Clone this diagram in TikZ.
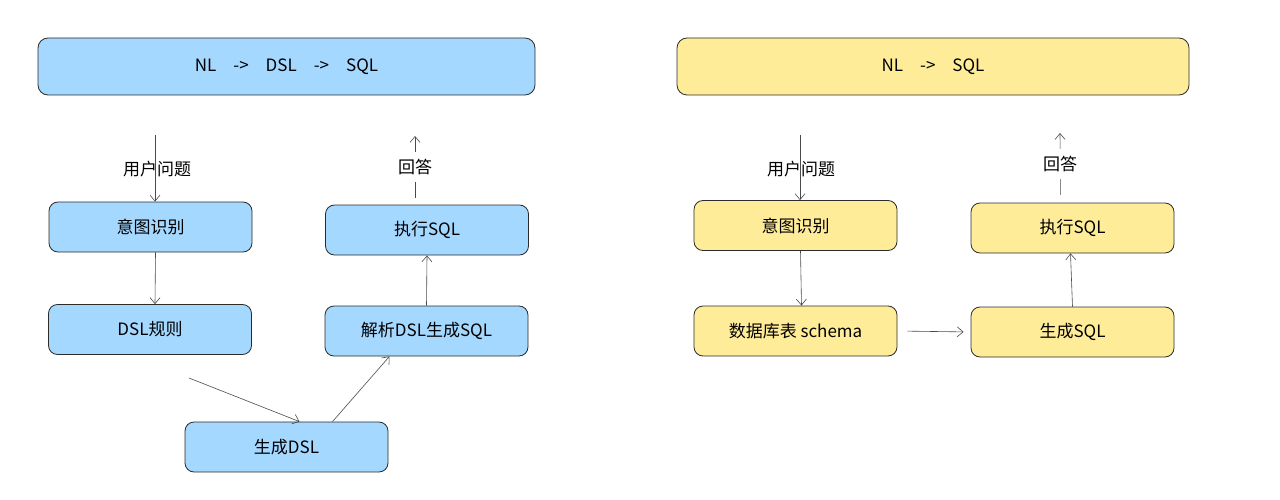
\documentclass[tikz,border=0pt]{standalone}
\usepackage{fontspec}
\setmainfont{Noto Sans CJK SC}
\usetikzlibrary{arrows.meta}
\definecolor{bleu}{HTML}{A5D8FF}
\definecolor{jaune}{HTML}{FFEC99}
\definecolor{trait}{HTML}{2B2B2B}
\definecolor{fleche}{HTML}{4A4A4A}

\begin{document}
\begin{tikzpicture}[x=1pt, y=-1pt,
	boite/.style={draw=trait, line width=0.8pt, rounded corners=9pt, minimum width=203pt, minimum height=50pt, inner sep=0pt, font=\fontsize{17}{20}\selectfont},
	titre/.style={boite, minimum height=57pt, rounded corners=10pt},
	lbl/.style={font=\fontsize{17}{20}\selectfont, inner sep=0pt},
	fl/.style={draw=fleche, line width=0.6pt, -{Straight Barb[length=6pt, width=10pt]}}]
	\useasboundingbox (0,0) rectangle (1280,500);

	% NL -> DSL -> SQL
	\node[titre, fill=bleu, minimum width=497pt] (titreA) at (286.5,66.5) {NL\quad->\quad DSL\quad->\quad SQL};
	\node[boite, fill=bleu] (intentA) at (150.5,227) {意图识别};
	\node[boite, fill=bleu] (regleA) at (150,329.5) {DSL规则};
	\node[boite, fill=bleu] (genA) at (286.5,447) {生成DSL};
	\node[boite, fill=bleu] (parseA) at (426.5,331) {解析DSL生成SQL};
	\node[boite, fill=bleu] (execA) at (427,230) {执行SQL};
	\coordinate (qA) at (155,135);
	\coordinate (dA) at (189,378);
	\coordinate (rA) at (415,136);

	\draw[fl] (qA) -- (qA |- intentA.north);
	\node[lbl] (questionA) at (157,169) {用户问题};
	\draw[fl] ([xshift=5pt]intentA.south) -- ([xshift=5pt]regleA.north);
	\draw[fl] (dA) -- ([xshift=13pt]genA.north);
	\draw[fl] ([xshift=46pt]genA.north) -- ([xshift=-37pt]parseA.south);
	\draw[fl] (parseA.north) -- (execA.south);
	\draw[fl, shorten <=7pt] ([xshift=-12pt]execA.north) -- (rA) node[lbl, pos=0.55, fill=white, inner ysep=7pt] (reponseA) {回答};

	% NL -> SQL
	\node[titre, fill=jaune, minimum width=512pt] (titreB) at (933,66.5) {NL\quad->\quad SQL};
	\node[boite, fill=jaune] (intentB) at (795.5,225.5) {意图识别};
	\node[boite, fill=jaune] (schemaB) at (795.5,331) {数据库表 schema};
	\node[boite, fill=jaune] (genB) at (1072.5,332) {生成SQL};
	\node[boite, fill=jaune] (execB) at (1072.5,228) {执行SQL};
	\coordinate (qB) at (800,135);
	\coordinate (rB) at (1060,133);

	\draw[fl] (qB) -- (qB |- intentB.north);
	\node[lbl] (questionB) at (801,169) {用户问题};
	\draw[fl] ([xshift=5pt]intentB.south) -- ([xshift=6pt]schemaB.north);
	\draw[fl, shorten <=10pt, shorten >=7pt] (schemaB.east) -- (genB.west);
	\draw[fl] (genB.north) -- ([xshift=-2pt]execB.south);
	\draw[fl, shorten <=8pt] ([xshift=-12pt]execB.north) -- (rB) node[lbl, pos=0.55, fill=white, inner ysep=7pt] (reponseB) {回答};
\end{tikzpicture}
\end{document}
